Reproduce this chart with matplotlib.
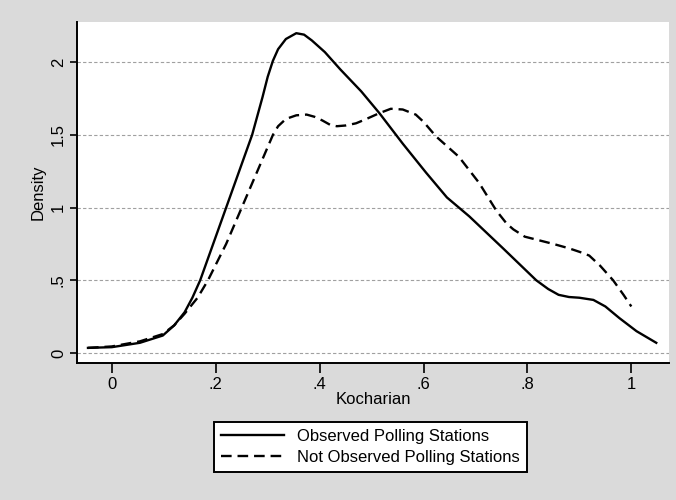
import matplotlib.pyplot as plt

plt.rcParams['font.family'] = ['Liberation Sans', 'DejaVu Sans']

# values
obs_x = [-0.046, 0.0, 0.054, 0.098, 0.12, 0.14, 0.155, 0.17, 0.195, 0.22, 0.245,
         0.27, 0.29, 0.30, 0.31, 0.32, 0.335, 0.355, 0.37, 0.385, 0.41, 0.44,
         0.48, 0.515, 0.56, 0.605, 0.645, 0.688, 0.753, 0.817, 0.84, 0.86, 0.88,
         0.90, 0.927, 0.95, 0.977, 1.01, 1.048]
obs_y = [0.035, 0.04, 0.07, 0.12, 0.19, 0.28, 0.38, 0.50, 0.75, 1.0, 1.25,
         1.5, 1.76, 1.90, 2.01, 2.09, 2.16, 2.20, 2.19, 2.15, 2.07, 1.95,
         1.80, 1.65, 1.44, 1.24, 1.07, 0.94, 0.72, 0.50, 0.44, 0.40, 0.385,
         0.38, 0.365, 0.32, 0.24, 0.15, 0.07]

notobs_x = [-0.046, 0.0, 0.054, 0.098, 0.12, 0.14, 0.165, 0.185, 0.22, 0.25, 0.28,
            0.31, 0.32, 0.335, 0.355, 0.375, 0.39, 0.405, 0.42, 0.433, 0.45, 0.47,
            0.49, 0.515, 0.537, 0.56, 0.585, 0.60, 0.624, 0.668, 0.707, 0.74,
            0.76, 0.773, 0.795, 0.817, 0.85, 0.88, 0.905, 0.919, 0.94, 0.965,
            0.985, 1.0]
notobs_y = [0.035, 0.045, 0.08, 0.13, 0.19, 0.27, 0.38, 0.50, 0.75, 1.0, 1.25,
            1.5, 1.56, 1.61, 1.635, 1.64, 1.625, 1.60, 1.57, 1.56, 1.565, 1.58,
            1.61, 1.65, 1.68, 1.675, 1.64, 1.59, 1.49, 1.35, 1.17, 0.98,
            0.89, 0.85, 0.80, 0.78, 0.75, 0.72, 0.69, 0.67, 0.60, 0.50,
            0.40, 0.32]

x_ticks = [0, 0.2, 0.4, 0.6, 0.8, 1.0]
x_labels = ['0', '.2', '.4', '.6', '.8', '1']
y_ticks = [0, 0.5, 1.0, 1.5, 2.0]
y_labels = ['0', '.5', '1', '1.5', '2']

fig = plt.figure(figsize=(6.76, 5), dpi=100, facecolor='#dadada')
ax = fig.add_axes([0.114, 0.274, 0.876, 0.682])
ax.set_facecolor('white')

for yv in y_ticks:
    ax.axhline(yv, color='#a0a0a0', lw=0.8, linestyle=(0, (3, 2)), zorder=1)

ax.plot(obs_x, obs_y, color='black', lw=1.7, label='Observed Polling Stations',
        zorder=3, solid_joinstyle='round')
ax.plot(notobs_x, notobs_y, color='black', lw=1.7, linestyle=(0, (4.5, 2.5)),
        label='Not Observed Polling Stations', zorder=3)

ax.set_xlim(-0.067, 1.073)
ax.set_ylim(-0.069, 2.277)

ax.set_xticks(x_ticks)
ax.set_xticklabels(x_labels, fontsize=12)
ax.set_yticks(y_ticks)
ax.set_yticklabels(y_labels, fontsize=12, rotation=90, va='center')
ax.tick_params(axis='x', direction='out', length=7, width=1.2, pad=3)
ax.tick_params(axis='y', direction='out', length=5, width=1.2, pad=3)

ax.spines['top'].set_visible(False)
ax.spines['right'].set_visible(False)
ax.spines['left'].set_linewidth(1.4)
ax.spines['bottom'].set_linewidth(1.4)

ax.set_xlabel('Kocharian', fontsize=12, labelpad=0)
ax.set_ylabel('Density', fontsize=12, labelpad=4)

leg = fig.legend(loc='center', bbox_to_anchor=(0.548, 0.106), fontsize=12,
                 handlelength=3.8, frameon=True, fancybox=False,
                 borderpad=0.4, labelspacing=0.35, handletextpad=0.8)
leg.get_frame().set_edgecolor('black')
leg.get_frame().set_linewidth(1.4)
leg.get_frame().set_facecolor('white')
leg.get_frame().set_alpha(1)

fig.savefig('out.png', dpi=100, facecolor=fig.get_facecolor())
